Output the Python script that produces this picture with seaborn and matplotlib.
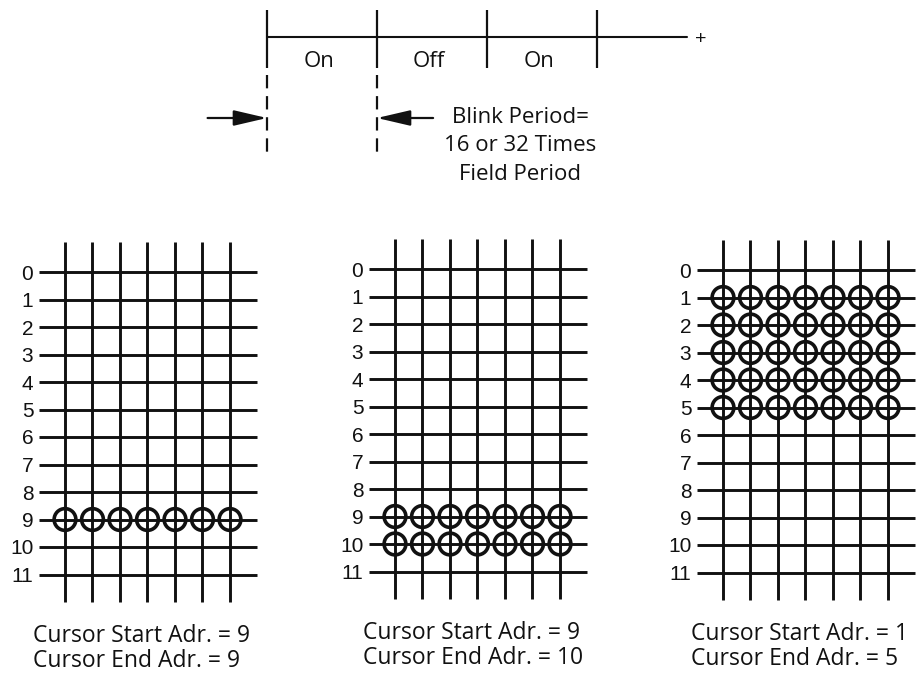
"""
Cursor blink timing and cursor start/end address diagram.
"""
import numpy as np
import pandas as pd
import matplotlib
matplotlib.use('Agg')
import matplotlib.pyplot as plt
import seaborn as sns

# ---- data -----------------------------------------------------------------
rows = list(range(12))                      # raster line addresses
row_labels = [str(r) for r in rows]
columns = list(range(7))                    # dot columns per character cell
cursor_start = [9, 9, 1]
cursor_end = [9, 10, 5]

phase_edges = [0, 1, 2, 3]                  # blink phase boundaries
phase_labels = ["On", "Off", "On"]
timeline_end = 3.82
blink_edges = [0, 1]                        # span marked by the arrows
blink_lines = ["Blink Period=", "16 or 32 Times", "Field Period"]

# ---- style ----------------------------------------------------------------
sns.set_style("white", {'text.color': '#111111', 'ytick.color': '#111111'})
plt.rcParams['font.family'] = ['Liberation Sans', 'DejaVu Sans']
INK = '#111111'
TXT = ['Open Sans', 'DejaVu Sans']
FS = 16

FIG_W, FIG_H = 920, 679
UNIT = 27.5          # px per grid step
PERIOD = 110         # px per blink phase
TSTEP = 27           # px per timing y unit

fig = plt.figure(figsize=(FIG_W / 100, FIG_H / 100), dpi=100)


def px_axes(left, top, width, height):
    return fig.add_axes([left / FIG_W, 1 - (top + height) / FIG_H,
                         width / FIG_W, height / FIG_H])


# ---- timing diagram -------------------------------------------------------
tx0, ty0 = 267, 37
ax = px_axes(180, 0, 540, 200)
ax.set_xlim((180 - tx0) / PERIOD, (720 - tx0) / PERIOD)
ax.set_ylim(-(200 - ty0) / TSTEP, ty0 / TSTEP)
ax.axis('off')

ax.plot([phase_edges[0], timeline_end], [0, 0], color=INK, lw=1.5)
ax.vlines(phase_edges, -1.15, 1.0, color=INK, lw=1.6)
ax.vlines(blink_edges, -1.4, -4.5, color=INK, lw=1.6,
          linestyles=(0, (6, 3.5)))
for i, lab in enumerate(phase_labels):
    mid = (phase_edges[i] + phase_edges[i + 1]) / 2
    ax.text(mid - 0.03, -1.11, lab, ha='center', va='baseline',
            fontsize=FS, family=TXT)
ax.text(timeline_end + 0.125, -0.1, "+", ha='center', va='center',
        fontsize=14, color=INK)

arrow = dict(arrowstyle='-|>,head_length=1.2,head_width=0.28',
             color=INK, lw=1.6, shrinkA=0, shrinkB=0, mutation_scale=17)
ax.annotate("", xy=(blink_edges[0], -3.0), xytext=(blink_edges[0] - 0.54, -3.0),
            arrowprops=arrow)
ax.annotate("", xy=(blink_edges[1], -3.0), xytext=(blink_edges[1] + 0.51, -3.0),
            arrowprops=arrow)
for k, line in enumerate(blink_lines):
    ax.text(2.3, -3.19 - 1.05 * k, line, ha='center', va='baseline',
            fontsize=FS, family=TXT)

# ---- cursor grids ---------------------------------------------------------
grid_origins = [(65, 272), (395, 269), (723, 270)]

for (gx, gy), start, end in zip(grid_origins, cursor_start, cursor_end):
    ax = px_axes(gx - 1.0 * UNIT, gy - 1.3 * UNIT, 8.2 * UNIT, 13.6 * UNIT)

    ax.hlines(rows, -0.93, 7.0, color=INK, lw=2.1)
    ax.vlines(columns, -1.08, 12.0, color=INK, lw=2.1)

    cells = pd.DataFrame([(c, r) for r in range(start, end + 1) for c in columns],
                         columns=['col', 'row'])
    sns.scatterplot(data=cells, x='col', y='row', ax=ax, marker='o', s=245,
                    facecolors='none', edgecolor=INK, linewidth=2.6,
                    zorder=3, legend=False)

    ax.set_xlim(-1.0, 7.2)
    ax.set_ylim(12.3, -1.3)
    ax.set_yticks(rows)
    ax.set_yticklabels(row_labels)
    ax.set_xticks([])
    ax.tick_params(axis='y', length=0, pad=3, labelsize=15)
    ax.set_xlabel('')
    ax.set_ylabel('')
    sns.despine(ax=ax, left=True, bottom=True)

    ax.text(-1.15, 13.45, f"Cursor Start Adr. = {start}", ha='left',
            va='baseline', fontsize=16.5, family=TXT)
    ax.text(-1.15, 14.38, f"Cursor End Adr. = {end}", ha='left',
            va='baseline', fontsize=16.5, family=TXT)

fig.savefig("out.png", dpi=100)
plt.close(fig)
